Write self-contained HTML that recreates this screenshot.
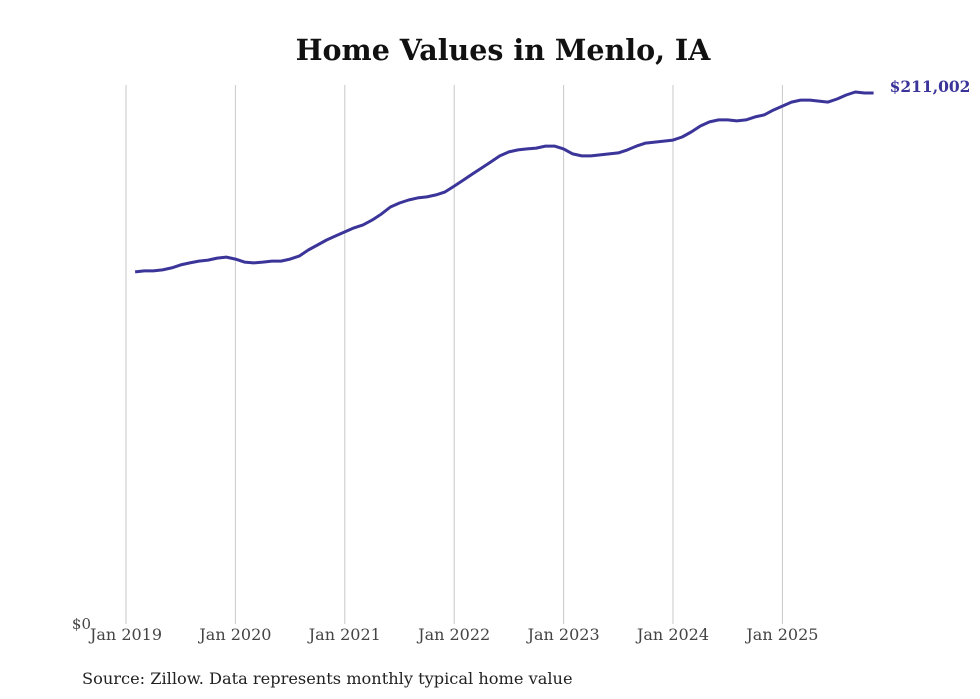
<!DOCTYPE html>
<html><head><meta charset="utf-8"><style>
body{margin:0;background:#fff;}
svg{display:block;font-family:"DejaVu Serif","Liberation Serif",serif;}
</style></head><body>
<svg id="chart" width="980" height="699">
<text x="503" y="60" text-anchor="middle" font-size="28.5" font-weight="bold" fill="#111">Home Values in Menlo, IA</text>
<g id="grid"></g>
<g id="xticks"></g>
<text x="91" y="629" text-anchor="end" font-size="15" fill="#444">$0</text>
<path id="line" fill="none" stroke="#3b3599" stroke-width="3" stroke-linejoin="round"></path>
<text id="endlabel" font-size="15.5" font-weight="bold" fill="#3b3599"></text>
<text x="82" y="684" font-size="16.2" fill="#222">Source: Zillow. Data represents monthly typical home value</text>
</svg>
<script>
const startYear = 2019, startMonth = 1; // Feb 2019 (0-based month)
const tickYears = [2019,2020,2021,2022,2023,2024,2025];
const tickLabels = ["Jan 2019","Jan 2020","Jan 2021","Jan 2022","Jan 2023","Jan 2024","Jan 2025"];
const values = [139900,140300,140300,140700,141500,142700,143500,144200,144600,145400,145800,
145000,143800,143500,143800,144200,144200,145000,146200,148600,150600,152600,154200,
155800,157400,158600,160500,162900,165700,167300,168500,169300,169700,170500,171700,
174000,176400,178800,181200,183600,186000,187600,188400,188800,189100,189900,189900,
188800,186800,186000,186000,186400,186800,187200,188400,189900,191100,191500,191900,
192300,193500,195500,197900,199500,200300,200300,199900,200300,201500,202300,204200,
205800,207400,208200,208200,207800,207400,208600,210200,211400,211002,211002];
const lastLabel = "$211,002";

const ns="http://www.w3.org/2000/svg";
function x(monthsSinceJan2019){return 126 + monthsSinceJan2019*(109.4/12);}
function y(v){return 624 - v/211002*531;}
const grid=document.getElementById('grid'), xt=document.getElementById('xticks');
tickYears.forEach((yr,i)=>{
  const m=(yr-2019)*12;
  const l=document.createElementNS(ns,'line');
  l.setAttribute('x1',x(m));l.setAttribute('x2',x(m));l.setAttribute('y1',85);l.setAttribute('y2',624);
  l.setAttribute('stroke','#c8c8c8');l.setAttribute('stroke-width','1');
  
  
  grid.appendChild(l);
  const t=document.createElementNS(ns,'text');
  t.setAttribute('x',x(m));t.setAttribute('y',640);t.setAttribute('text-anchor','middle');
  t.setAttribute('font-size','16');t.setAttribute('fill','#444');
  t.textContent=tickLabels[i];
  
  
  xt.appendChild(t);
});
const off=(startYear-2019)*12+startMonth;
let d='';
values.forEach((v,i)=>{d+=(i?'L':'M')+x(off+i).toFixed(1)+','+y(v).toFixed(1);});
document.getElementById('line').setAttribute('d',d);
const el=document.getElementById('endlabel');
const li=values.length-1;
el.setAttribute('x',x(off+li)+16);el.setAttribute('y',y(values[li])-1);
el.textContent=lastLabel;
</script>
</body></html>
